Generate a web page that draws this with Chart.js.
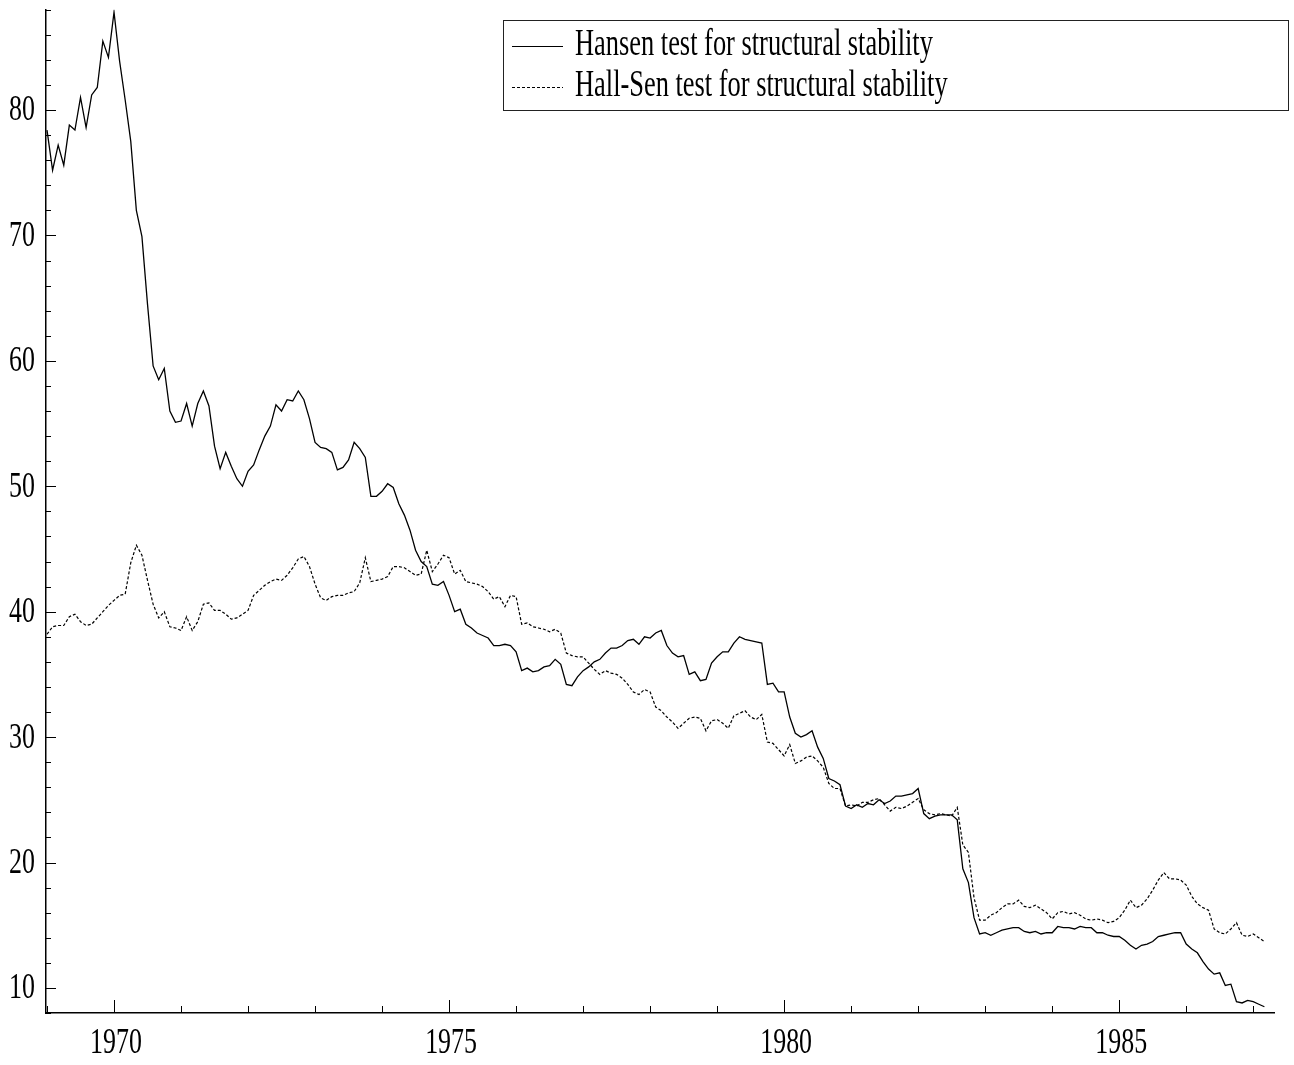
<!DOCTYPE html>
<html>
<head>
<meta charset="utf-8">
<title>Structural stability tests</title>
<script src="https://cdn.jsdelivr.net/npm/chart.js@4.4.1/dist/chart.umd.min.js"></script>
<style>
  html, body { margin: 0; padding: 0; background: #fff; }
  canvas { display: block; }
</style>
</head>
<body>
<canvas id="chart" width="1294" height="1065"></canvas>
<script>
// Monthly statistics, first observation January 1969
const START_YEAR = 1969;

const seriesNames = [
  'Hansen test for structural stability',
  'Hall-Sen test for structural stability'
];

const hansen = [
  78.4,75.2,77.2,75.6,78.8,78.4,81.0,78.6,81.2,81.8,
  85.5,84.2,87.8,83.9,80.8,77.5,72.0,69.9,64.5,59.6,
  58.5,59.4,56.0,55.1,55.2,56.6,54.8,56.6,57.6,56.4,
  53.2,51.4,52.7,51.6,50.6,50.0,51.2,51.7,52.9,54.0,
  54.8,56.5,56.0,56.9,56.8,57.6,56.9,55.4,53.5,53.1,
  53.0,52.7,51.3,51.5,52.1,53.5,53.0,52.3,49.2,49.2,
  49.6,50.2,49.9,48.6,47.7,46.5,44.9,44.0,43.6,42.2,
  42.1,42.4,41.3,40.0,40.2,39.0,38.7,38.3,38.1,37.9,
  37.3,37.3,37.4,37.3,36.8,35.3,35.5,35.2,35.3,35.6,
  35.7,36.2,35.8,34.2,34.1,34.8,35.3,35.6,36.0,36.2,
  36.7,37.1,37.1,37.3,37.7,37.8,37.4,38.0,37.9,38.3,
  38.5,37.3,36.7,36.4,36.5,35.0,35.2,34.5,34.6,35.9,
  36.4,36.8,36.8,37.5,38.0,37.8,37.7,37.6,37.5,34.2,
  34.3,33.6,33.6,31.6,30.3,30.0,30.2,30.5,29.2,28.3,
  26.7,26.5,26.2,24.5,24.3,24.6,24.4,24.7,24.6,25.0,
  24.7,24.9,25.3,25.3,25.4,25.5,25.9,23.9,23.5,23.7,
  23.8,23.8,23.8,23.4,19.5,18.4,15.6,14.3,14.4,14.2,
  14.4,14.6,14.7,14.8,14.8,14.5,14.4,14.5,14.3,14.4,
  14.4,14.9,14.8,14.8,14.7,14.9,14.8,14.8,14.4,14.4,
  14.2,14.1,14.1,13.8,13.4,13.1,13.4,13.5,13.7,14.1,
  14.2,14.3,14.4,14.4,13.5,13.1,12.8,12.1,11.5,11.1,
  11.2,10.2,10.3,8.9,8.8,9.0,8.9,8.7,8.5
];

const hallSen = [
  38.2,38.8,38.9,38.9,39.6,39.8,39.2,38.9,39.0,39.5,
  40.0,40.5,40.9,41.3,41.4,43.9,45.3,44.5,42.5,40.6,
  39.5,40.0,38.8,38.7,38.5,39.6,38.5,39.2,40.6,40.7,
  40.1,40.1,39.8,39.4,39.5,39.8,40.1,41.3,41.7,42.1,
  42.4,42.6,42.5,42.9,43.5,44.2,44.4,43.6,42.2,41.1,
  40.9,41.2,41.3,41.3,41.5,41.6,42.3,44.3,42.4,42.5,
  42.6,42.8,43.6,43.6,43.5,43.2,42.9,43.0,44.9,43.2,
  43.8,44.5,44.3,43.0,43.3,42.4,42.3,42.2,42.0,41.6,
  41.0,41.2,40.4,41.3,41.2,39.0,39.1,38.8,38.7,38.6,
  38.4,38.6,38.3,36.7,36.5,36.4,36.4,35.9,35.4,35.0,
  35.3,35.1,35.0,34.7,34.2,33.6,33.4,33.8,33.6,32.4,
  32.1,31.6,31.2,30.7,31.1,31.5,31.6,31.5,30.5,31.3,
  31.4,31.1,30.7,31.7,31.9,32.1,31.6,31.4,31.8,29.6,
  29.5,29.0,28.5,29.4,27.9,28.1,28.4,28.5,28.1,27.6,
  26.3,25.9,25.9,24.5,24.6,24.5,24.8,24.8,25.0,25.1,
  24.6,24.1,24.4,24.3,24.5,24.8,25.1,24.2,23.9,23.8,
  23.9,23.8,23.7,24.4,21.4,20.8,17.2,15.4,15.4,15.8,
  16.0,16.4,16.7,16.7,17.0,16.5,16.4,16.6,16.3,16.0,
  15.5,16.0,16.1,15.9,16.0,15.8,15.5,15.4,15.5,15.4,
  15.2,15.3,15.6,16.2,17.0,16.4,16.6,17.1,17.8,18.6,
  19.2,18.7,18.7,18.6,18.2,17.3,16.7,16.4,16.2,14.7,
  14.4,14.3,14.7,15.2,14.2,14.1,14.3,14.0,13.7
];

const yearLabels = [1970, 1975, 1980, 1985];
const valueLabels = [10, 20, 30, 40, 50, 60, 70, 80];

const toPoints = arr => arr.map((v, i) => ({ x: START_YEAR + i / 12, y: v }));

const TICK_FONT = '36px "Liberation Serif", "Times New Roman", serif';
const LEGEND_FONT = '38px "Liberation Serif", "Times New Roman", serif';
const SQUEEZE = 0.72;

// Narrow serif text: draw with a horizontal squeeze
function squeezedText(ctx, txt, x, y, align, font, sx) {
  ctx.save();
  ctx.translate(x, y);
  ctx.scale(sx, 1);
  ctx.font = font;
  ctx.textAlign = align;
  ctx.textBaseline = 'middle';
  ctx.fillStyle = '#000';
  ctx.fillText(txt, 0, 0);
  ctx.restore();
}

// Inward tick marks, squeezed tick labels and the boxed legend
const axisDecor = {
  id: 'axisDecor',
  afterDraw(chart) {
    const { ctx, scales: { x, y } } = chart;
    const axisY = y.bottom;
    const axisX = x.left;
    ctx.save();
    ctx.strokeStyle = '#000';
    ctx.lineWidth = 1;

    for (let yr = Math.ceil(x.min); yr <= x.max; yr++) {
      const px = Math.round(x.getPixelForValue(yr)) + 0.5;
      const len = yearLabels.includes(yr) ? 13 : 7;
      ctx.beginPath();
      ctx.moveTo(px, axisY);
      ctx.lineTo(px, axisY - len);
      ctx.stroke();
    }
    for (let v = y.min; v <= y.max + 1e-9; v += 2) {
      const py = Math.round(y.getPixelForValue(v)) + 0.5;
      const len = v % 10 === 0 ? 10 : 5;
      ctx.beginPath();
      ctx.moveTo(axisX, py);
      ctx.lineTo(axisX + len, py);
      ctx.stroke();
    }

    yearLabels.forEach(yr => {
      squeezedText(ctx, String(yr), x.getPixelForValue(yr) + 2, axisY + 31, 'center', TICK_FONT, SQUEEZE);
    });
    valueLabels.forEach(v => {
      squeezedText(ctx, String(v), axisX - 11, y.getPixelForValue(v) + 1, 'right', TICK_FONT, SQUEEZE);
    });

    // legend box
    const bx = 503.5, by = 20.5, bw = 785, bh = 90;
    ctx.lineWidth = 1;
    ctx.strokeStyle = '#222';
    ctx.strokeRect(bx, by, bw, bh);
    const rows = [46, 87];
    chart.data.datasets.forEach((ds, i) => {
      ctx.save();
      ctx.strokeStyle = '#000';
      ctx.lineWidth = 1.2;
      ctx.setLineDash(ds.borderDash || []);
      ctx.beginPath();
      ctx.moveTo(512, rows[i] + 0.5);
      ctx.lineTo(563, rows[i] + 0.5);
      ctx.stroke();
      ctx.restore();
      squeezedText(ctx, ds.label, 575, rows[i] - 1, 'left', LEGEND_FONT, 0.695);
    });
    ctx.restore();
  }
};

new Chart(document.getElementById('chart'), {
  type: 'line',
  data: {
    datasets: [
      {
        label: seriesNames[0],
        data: toPoints(hansen),
        borderColor: '#000',
        borderWidth: 1.3,
        pointRadius: 0,
        tension: 0,
        fill: false
      },
      {
        label: seriesNames[1],
        data: toPoints(hallSen),
        borderColor: '#000',
        borderWidth: 1.2,
        borderDash: [3, 2],
        pointRadius: 0,
        tension: 0,
        fill: false
      }
    ]
  },
  options: {
    responsive: false,
    animation: false,
    devicePixelRatio: 1,
    layout: { padding: { left: 46, right: 20, top: 9.7, bottom: 52 } },
    plugins: { legend: { display: false }, tooltip: { enabled: false } },
    scales: {
      x: {
        type: 'linear',
        min: 1968.985,
        max: 1987.31,
        ticks: { display: false },
        grid: { display: false },
        border: { display: true, color: '#000', width: 1.5 },
        afterFit(scale) { scale.height = 0; }
      },
      y: {
        type: 'linear',
        min: 8,
        max: 88,
        ticks: { display: false },
        grid: { display: false },
        border: { display: true, color: '#000', width: 1.5 },
        afterFit(scale) { scale.width = 0; }
      }
    }
  },
  plugins: [axisDecor]
});
</script>
</body>
</html>
